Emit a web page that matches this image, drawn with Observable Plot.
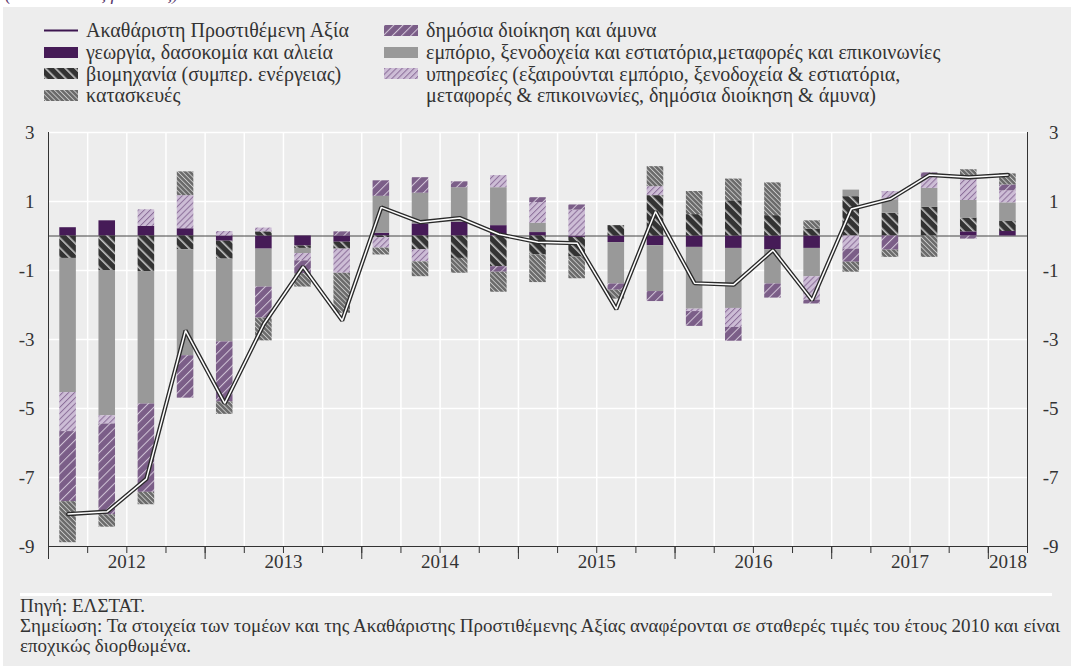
<!DOCTYPE html>
<html><head><meta charset="utf-8">
<script src="https://cdn.jsdelivr.net/npm/d3@7"></script>
<script src="https://cdn.jsdelivr.net/npm/@observablehq/plot@0.6"></script>
<style>
body{margin:0;width:1071px;height:666px;position:relative;overflow:hidden;background:#fff;font-family:"Liberation Serif","Times New Roman",serif;color:#333;}
#title{position:absolute;left:5px;top:-16px;font-style:italic;font-size:19px;line-height:19px;color:#5a3a6e;white-space:nowrap;}
#panel{position:absolute;left:3px;top:7px;width:1068px;height:659px;background:#ededed;}
#sep{position:absolute;left:20px;top:593px;width:1032px;height:3px;background:#fff;}
.item{position:absolute;display:flex;align-items:center;font-size:20px;line-height:20px;white-space:nowrap;}
.item svg{margin-right:8px;flex:none;}
.cont{position:absolute;font-size:20px;line-height:20px;white-space:nowrap;}
#chart{position:absolute;left:0;top:110px;}
#foot{position:absolute;left:20px;top:596px;font-size:19px;line-height:20px;white-space:nowrap;}
</style></head>
<body>
<svg width="0" height="0" style="position:absolute">
<defs>
<pattern id="pInd" patternUnits="userSpaceOnUse" width="7" height="7" patternTransform="rotate(-45)">
<rect width="7" height="7" fill="#333333"/><rect x="0" width="1.6" height="7" fill="#c4c4c4"/></pattern>
<pattern id="pCon" patternUnits="userSpaceOnUse" width="3.4" height="3.4" patternTransform="rotate(-45)">
<rect width="3.4" height="3.4" fill="#6a6a6a"/><rect x="0" width="0.9" height="3.4" fill="#c8c8c8"/></pattern>
<pattern id="pPub" patternUnits="userSpaceOnUse" width="6.5" height="6.5" patternTransform="rotate(45)">
<rect width="6.5" height="6.5" fill="#7b5e88"/><rect x="0" width="1" height="6.5" fill="#d2c6d8"/></pattern>
<pattern id="pSer" patternUnits="userSpaceOnUse" width="4.2" height="4.2" patternTransform="rotate(45)">
<rect width="4.2" height="4.2" fill="#cdbdd6"/><rect x="0" width="1" height="4.2" fill="#8c6f9a"/></pattern>
</defs></svg>
<div id="title">(εκατοστιαίες μονάδες)</div>
<div id="panel"></div>
<div id="sep"></div>
<div id="legend"></div>
<div id="chart"></div>
<div id="foot">Πηγή: ΕΛΣΤΑΤ.<br>Σημείωση: Τα στοιχεία των τομέων και της Ακαθάριστης Προστιθέμενης Αξίας αναφέρονται σε σταθερές τιμές του έτους 2010 και είναι<br>εποχικώς διορθωμένα.</div>
<script>
// ---- data ----
const quarters = ["2012Q1","2012Q2","2012Q3","2012Q4","2013Q1","2013Q2","2013Q3","2013Q4",
  "2014Q1","2014Q2","2014Q3","2014Q4","2015Q1","2015Q2","2015Q3","2015Q4",
  "2016Q1","2016Q2","2016Q3","2016Q4","2017Q1","2017Q2","2017Q3","2017Q4","2018Q1"];
const years = ["2012","2013","2014","2015","2016","2017","2018"];
const yTicks = [3, 1, -1, -3, -5, -7, -9];
const lineName = "Ακαθάριστη Προστιθέμενη Αξία";
const seriesNames = [
  "γεωργία, δασοκομία και αλιεία",
  "βιομηχανία (συμπερ. ενέργειας)",
  "εμπόριο, ξενοδοχεία και εστιατόρια,μεταφορές και επικοινωνίες",
  "υπηρεσίες (εξαιρούνται εμπόριο, ξενοδοχεία & εστιατόρια, μεταφορές & επικοινωνίες, δημόσια διοίκηση & άμυνα)",
  "δημόσια διοίκηση και άμυνα",
  "κατασκευές"
];
const agri  = [0.24,0.44,0.28,0.21,-0.15,-0.38,-0.29,-0.18,0.08,0.35,0.40,0.30,0.10,-0.04,-0.19,-0.28,-0.33,-0.36,-0.40,-0.36,0,0,0,0.12,0.13];
const ind   = [-0.65,-1.00,-1.03,-0.40,-0.52,0.12,-0.07,-0.20,-0.05,-0.40,-0.65,-0.89,-0.55,-0.57,0.30,1.17,0.62,1.02,0.59,0.20,1.14,0.66,0.83,0.40,0.29];
const trade = [-3.89,-4.21,-3.84,-3.07,-2.40,-1.10,-0.15,0,1.07,0.89,1.00,1.10,0.27,0,-1.20,-1.33,-1.79,-1.74,-0.99,-0.82,0.19,0.39,0.55,0.51,0.54];
const serv  = [-1.13,-0.24,0.48,0.96,0.13,0.11,-0.21,-0.70,-0.30,-0.35,0,0.35,0.60,0.75,0,0.26,-0.07,-0.55,0,-0.68,-0.38,0.24,0.32,0.60,0.35];
const pub   = [-2.03,-2.63,-2.56,-1.23,-1.74,-0.90,-0.37,0.12,0.45,0.45,0.17,-0.16,0.14,0.15,-0.18,-0.29,-0.43,-0.40,-0.41,-0.11,-0.38,-0.41,0.13,-0.09,0.17];
const cons  = [-1.19,-0.36,-0.36,0.69,-0.36,-0.66,-0.39,-1.16,-0.20,-0.43,-0.43,-0.58,-0.80,-0.63,-0.26,0.58,0.67,0.63,0.95,0.24,-0.29,-0.21,-0.62,0.29,0.32];
const gva   = [-8.06,-7.99,-7.04,-2.74,-4.85,-2.55,-0.89,-2.45,0.83,0.40,0.52,0.05,-0.18,-0.21,-2.12,0.71,-1.37,-1.41,-0.41,-1.86,0.78,1.07,1.77,1.70,1.77];

const seriesValues = [agri, ind, trade, serv, pub, cons];
const fills = ["#461b57", "url(#pInd)", "#999999", "url(#pSer)", "url(#pPub)", "url(#pCon)"];

// ---- tables ----
const table = [];
seriesNames.forEach((s, k) => seriesValues[k].forEach((v, i) => { if (v !== 0) table.push({t: i, series: s, value: v}); }));
const gvaData = gva.map((v, i) => ({t: i + 0.5, v}));
const yearData = years.map(y => {
  const idx = quarters.map((q, i) => q.startsWith(y) ? i : -1).filter(i => i >= 0);
  return {year: y, start: idx[0], mid: idx[0] + idx.length / 2};
});
const boundaries = d3.range(0, quarters.length + 1);
const inner = boundaries.slice(1, -1);
const yearStarts = yearData.map(d => d.start);
const fmt = d => String(d);

// ---- legend ----
const sw = f => `<svg width="34" height="11"><rect width="34" height="11" fill="${f}"/></svg>`;
const legendItems = [
  {x: 44, row: 0, html: `<svg width="34" height="11"><line x1="0" x2="34" y1="5.5" y2="5.5" stroke="#3d1650" stroke-width="2"/></svg>` + lineName},
  {x: 44, row: 1, html: sw(fills[0]) + seriesNames[0]},
  {x: 44, row: 2, html: sw(fills[1]) + seriesNames[1]},
  {x: 44, row: 3, html: sw(fills[5]) + seriesNames[5]},
  {x: 384, row: 0, html: sw(fills[4]) + seriesNames[4]},
  {x: 384, row: 1, html: sw(fills[2]) + seriesNames[2]},
  {x: 384, row: 2, html: sw(fills[3]) + "υπηρεσίες (εξαιρούνται εμπόριο, ξενοδοχεία &amp; εστιατόρια,"}
];
const rowY = [20, 42, 63.5, 85];
const leg = document.getElementById("legend");
legendItems.forEach(it => {
  const d = document.createElement("div");
  d.className = "item";
  d.style.left = it.x + "px"; d.style.top = rowY[it.row] + "px";
  d.innerHTML = it.html;
  leg.appendChild(d);
});
const c = document.createElement("div");
c.className = "cont"; c.style.left = (384 + 42) + "px"; c.style.top = rowY[3] + "px";
c.innerHTML = "μεταφορές &amp; επικοινωνίες, δημόσια διοίκηση &amp; άμυνα)";
leg.appendChild(c);

// ---- chart ----
const chart = Plot.plot({
  width: 1071, height: 476,
  marginTop: 22, marginBottom: 40, marginLeft: 48, marginRight: 44,
  x: {type: "linear", domain: [0, quarters.length], axis: null},
  y: {domain: [-9, 3], axis: null},
  color: {type: "ordinal", domain: seriesNames, range: fills},
  style: {background: "transparent", fontFamily: "Liberation Serif, Times New Roman, serif", fontSize: "19px", color: "#333"},
  marks: [
    Plot.ruleY(yTicks.filter(d => d > -9), {stroke: "#fff", strokeWidth: 1.5}),
    Plot.ruleX(inner, {stroke: "#fff", strokeWidth: 1.5}),
    Plot.ruleY([0], {stroke: "#444", strokeWidth: 1}),
    Plot.rectY(table, {x: "t", y: "value", fill: "series", interval: 1, order: seriesNames, insetLeft: 11.3, insetRight: 11.3}),
    Plot.line(gvaData, {x: "t", y: "v", stroke: "#2a2a2a", strokeWidth: 4.2, strokeLinejoin: "miter"}),
    Plot.line(gvaData, {x: "t", y: "v", stroke: "#fff", strokeWidth: 1.5, strokeLinejoin: "miter"}),
    Plot.ruleX([0, quarters.length], {stroke: "#333", strokeWidth: 1}),
    Plot.ruleY([-9], {stroke: "#333", strokeWidth: 1}),
    Plot.axisX(boundaries, {anchor: "bottom", tickSize: 7, tickFormat: () => "", stroke: "#333"}),
    Plot.axisX(yearStarts, {anchor: "bottom", tickSize: 13, tickFormat: () => "", stroke: "#333"}),
    Plot.text(yearData, {x: "mid", text: "year", frameAnchor: "bottom", dy: 21, fontSize: 19, fill: "#333"}),
    Plot.text(yTicks, {y: d => d, text: fmt, frameAnchor: "left", dx: -14, textAnchor: "end", fontSize: 19, fill: "#333"}),
    Plot.text(yTicks, {y: d => d, text: fmt, frameAnchor: "right", dx: 31, textAnchor: "end", fontSize: 19, fill: "#333"})
  ]
});
document.getElementById("chart").appendChild(chart);
</script>
</body></html>
